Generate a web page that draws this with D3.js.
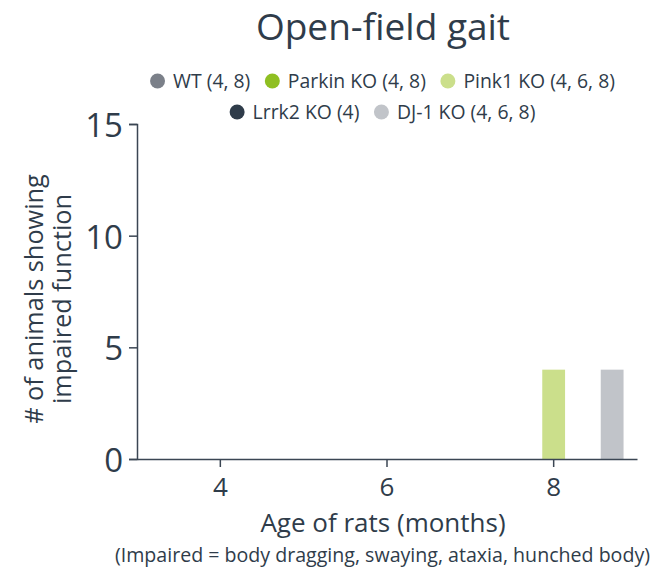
<!DOCTYPE html>
<html>
<head>
<meta charset="utf-8">
<script src="https://cdn.jsdelivr.net/npm/d3@7"></script>
<style>
body { margin:0; background:#fff; }
text { font-family: "Open Sans", Lato, sans-serif; fill:#2f3c4a; }
</style>
</head>
<body>
<div class="chart"></div>
<script>
const ages = [4, 6, 8];
const series = ['WT (4, 8)', 'Parkin KO (4, 8)', 'Pink1 KO (4, 6, 8)', 'Lrrk2 KO (4)', 'DJ-1 KO (4, 6, 8)'];
const colors = ['#7b8089', '#8fbf22', '#cbdf8b', '#2f3c4a', '#c1c4c9'];
// values per series, by age (null = not measured)
const wt     = [0, null, 0];
const parkin = [0, null, 0];
const pink1  = [0, 0, 4];
const lrrk2  = [0, null, null];
const dj1    = [0, 0, 4];
const yTicks = [0, 5, 10, 15];

const values = [wt, parkin, pink1, lrrk2, dj1];
const data = [];
ages.forEach((a, i) => {
    series.forEach((s, j) => {
        if (values[j][i] !== null) data.push({age:a, series:s, value:values[j][i]});
    });
});

const W = 664, H = 573;
const margin = {top:124, left:137, bottom:114, right:27};

const svg = d3.select('.chart').append('svg')
    .attr('width', W)
    .attr('height', H);

const x0 = d3.scaleBand()
    .domain(ages)
    .range([margin.left, W - margin.right])
    .padding(0);

const x1 = d3.scaleBand()
    .domain(series)
    .range([0, x0.bandwidth()])
    .paddingInner(0.22)
    .paddingOuter(0.46);

const y = d3.scaleLinear()
    .domain([0, 15])
    .range([H - margin.bottom, margin.top]);

const axisColor = '#3b4653';

// bars
svg.selectAll('.bar')
    .data(data)
    .enter()
    .append('rect')
    .attr('x', d => x0(d.age) + x1(d.series))
    .attr('width', x1.bandwidth())
    .attr('y', d => y(d.value))
    .attr('height', d => y(0) - y(d.value))
    .attr('fill', d => colors[series.indexOf(d.series)]);

// y axis
const yAxis = svg.append('g')
    .attr('transform', `translate(${margin.left},0)`)
    .call(d3.axisLeft(y).tickValues(yTicks).tickSize(8).tickPadding(6));
yAxis.selectAll('text').attr('font-size', '33px').attr('dy', '0.38em');

// x axis
const xAxis = svg.append('g')
    .attr('transform', `translate(0,${H - margin.bottom})`)
    .call(d3.axisBottom(x0).tickSize(8).tickPadding(11).tickSizeOuter(0));
xAxis.selectAll('text').attr('font-size', '26px');

svg.selectAll('.domain, .tick line')
    .attr('stroke', axisColor)
    .attr('stroke-width', 1.5);
svg.selectAll('.tick text').attr('fill', '#2f3c4a').attr('font-family', '"Open Sans", sans-serif');

// title
svg.append('text')
    .attr('x', 383)
    .attr('y', 40)
    .attr('text-anchor', 'middle')
    .attr('font-size', '37px')
    .text('Open-field gait');

// legend
const rows = [[0, 1, 2], [3, 4]];
const rowY = [81, 112];
rows.forEach((r, ri) => {
    const g = svg.append('g');
    let cx = 0;
    r.forEach(idx => {
        g.append('circle')
            .attr('cx', cx)
            .attr('cy', rowY[ri])
            .attr('r', 7.5)
            .attr('fill', colors[idx]);
        const t = g.append('text')
            .attr('x', cx + 15.5)
            .attr('y', rowY[ri])
            .attr('dy', '0.36em')
            .attr('font-size', '19.4px')
            .text(series[idx]);
        cx += 15.5 + t.node().getComputedTextLength() + 22;
    });
    const w = cx - 22 + 7.5;
    g.attr('transform', `translate(${382.5 - w / 2 + 7.5},0)`);
});

// y axis title
const yt = svg.append('text')
    .attr('transform', 'translate(43,299) rotate(-90)')
    .attr('text-anchor', 'middle')
    .attr('font-size', '25.3px');
yt.append('tspan').attr('x', 0).attr('y', 0).text('# of animals showing');
yt.append('tspan').attr('x', 0).attr('y', 28).text('impaired function');

// x axis title
svg.append('text')
    .attr('x', 383)
    .attr('y', 532)
    .attr('text-anchor', 'middle')
    .attr('font-size', '26px')
    .text('Age of rats (months)');

svg.append('text')
    .attr('x', 650)
    .attr('y', 562)
    .attr('text-anchor', 'end')
    .attr('font-size', '19.6px')
    .text('(Impaired = body dragging, swaying, ataxia, hunched body)');
</script>
</body>
</html>
